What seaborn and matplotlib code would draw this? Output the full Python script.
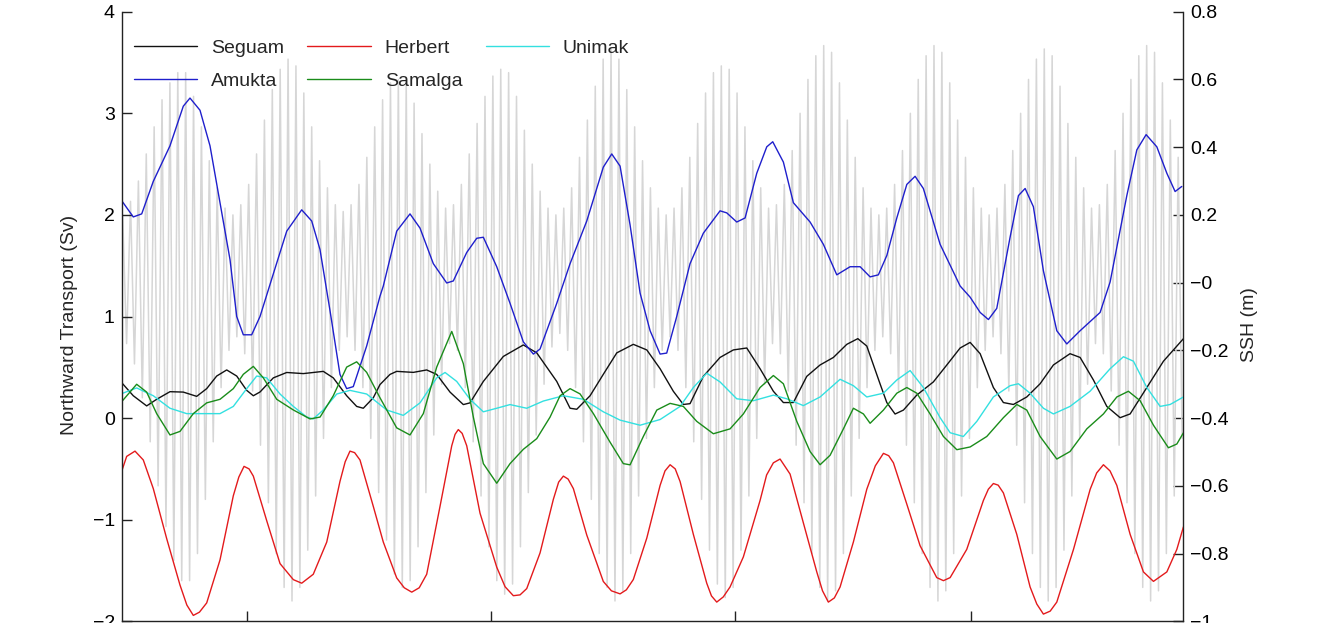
import numpy as np
import pandas as pd
import matplotlib
matplotlib.use("Agg")
import matplotlib.pyplot as plt
import matplotlib.dates as mdates
from matplotlib.ticker import FixedLocator, FuncFormatter
import seaborn as sns

# days since 15 Jun, northward transport (Sv)
seguam_day = [0.0, 1.6, 3.3, 4.57, 6.26, 7.95, 9.65, 10.92, 12.19, 13.46, 14.73, 16.0, 16.84, 17.69,
              19.38, 21.08, 23.18, 25.72, 26.99, 28.69, 29.96, 30.8, 32.07, 32.92, 34.19, 35.04,
              37.15, 38.85, 40.12, 41.81, 43.5, 44.35, 46.04, 48.58, 51.12, 52.82, 55.36, 57.05,
              57.9, 59.59, 61.27, 62.98, 65.08, 66.79, 68.48, 70.16, 71.43, 72.28, 73.97, 76.09,
              77.78, 79.48, 81.17, 82.86, 84.13, 85.4, 87.1, 88.79, 90.48, 92.18, 93.58, 94.72,
              96.4, 97.26, 98.31, 99.37, 101.07, 103.17, 104.88, 106.57, 107.84, 109.11, 110.79,
              112.06, 113.33, 115.03, 116.72, 118.41, 120.52, 121.8, 123.49, 125.19, 126.88,
              128.15, 130.27, 132.38, 134.92]
seguam_sv = [0.36, 0.22, 0.12, 0.185, 0.26, 0.256, 0.214, 0.29, 0.414, 0.474, 0.414, 0.273, 0.22, 0.257,
             0.396, 0.449, 0.438, 0.46, 0.396, 0.22, 0.115, 0.097, 0.2, 0.33, 0.43, 0.46,
             0.45, 0.474, 0.43, 0.256, 0.133, 0.15, 0.361, 0.607, 0.72, 0.642, 0.361, 0.097,
             0.087, 0.22, 0.431, 0.642, 0.726, 0.671, 0.486, 0.264, 0.134, 0.142, 0.411, 0.597,
             0.671, 0.69, 0.486, 0.264, 0.153, 0.153, 0.411, 0.523, 0.597, 0.726, 0.782, 0.709,
             0.338, 0.153, 0.04, 0.079, 0.227, 0.356, 0.523, 0.69, 0.745, 0.634, 0.301,
             0.153, 0.134, 0.208, 0.338, 0.523, 0.634, 0.597, 0.375, 0.115, 0.004,
             0.041, 0.301, 0.56, 0.782]

herbert_day = [0.0, 0.76, 1.82, 2.87, 4.14, 5.84, 7.53, 8.4, 9.22, 10.0, 10.92, 12.61, 14.3, 15.0,
               15.66, 16.3, 16.84, 18.54, 20.23, 21.92, 22.98, 24.45, 26.16, 27.84, 28.5, 29.11,
               29.7, 30.38, 32.07, 33.34, 35.04, 36.0, 36.95, 37.9, 38.85, 40.54, 42.03, 42.45,
               42.86, 43.35, 43.93, 45.62, 47.74, 48.8, 49.85, 50.7, 51.55, 53.24, 54.93, 55.6,
               56.2, 56.8, 57.47, 59.17, 61.27, 62.3, 63.4, 64.2, 65.08, 66.79, 68.48, 69.1,
               69.75, 70.4, 71.02, 72.7, 74.4, 75.0, 75.67, 76.5, 77.36, 79.05, 81.17, 82.0,
               82.86, 83.71, 84.98, 86.67, 88.37, 89.1, 89.84, 90.6, 91.33, 93.02, 94.72, 95.8,
               96.83, 97.5, 98.1, 99.8, 101.48, 103.6, 104.45, 105.3, 107.41, 109.52, 110.15,
               110.79, 111.4, 112.06, 113.76, 115.45, 116.3, 117.14, 118.0, 118.84, 120.96,
               123.08, 123.9, 124.76, 125.6, 126.46, 128.15, 129.84, 131.11, 132.81, 134.08,
               134.92]
herbert_sv = [-0.553, -0.377, -0.325, -0.412, -0.694, -1.186, -1.643, -1.84, -1.942, -1.91, -1.819,
              -1.396, -0.764, -0.58, -0.475, -0.50, -0.571, -1.01, -1.432, -1.59, -1.625, -1.537,
              -1.22, -0.623, -0.43, -0.325, -0.34, -0.412, -0.869, -1.22, -1.573, -1.67, -1.713,
              -1.67, -1.537, -0.869, -0.272, -0.16, -0.113, -0.15, -0.272, -0.936, -1.467, -1.66,
              -1.748, -1.74, -1.678, -1.327, -0.799, -0.63, -0.571, -0.6, -0.694, -1.151, -1.608,
              -1.70, -1.73, -1.69, -1.589, -1.181, -0.662, -0.52, -0.459, -0.5, -0.625, -1.144,
              -1.625, -1.75, -1.811, -1.76, -1.662, -1.366, -0.811, -0.56, -0.44, -0.403, -0.551,
              -1.032, -1.514, -1.70, -1.811, -1.77, -1.662, -1.219, -0.7, -0.47, -0.347, -0.37,
              -0.44, -0.847, -1.255, -1.57, -1.6, -1.57, -1.292, -0.811, -0.7, -0.644, -0.66,
              -0.736, -1.144, -1.662, -1.83, -1.929, -1.9, -1.811, -1.292, -0.7, -0.54, -0.459,
              -0.52, -0.662, -1.144, -1.514, -1.607, -1.514, -1.292, -1.07]

unimak_day = [0.0, 2.03, 4.14, 6.26, 8.38, 10.49, 12.61, 14.3, 16.0, 17.27, 18.54, 20.23, 21.92, 23.62,
              24.45, 25.72, 27.43, 29.11, 31.23, 33.77, 35.88, 38.0, 40.12, 41.18, 42.66, 44.35,
              46.04, 47.74, 49.43, 51.55, 53.66, 56.2, 58.74, 61.27, 63.4, 65.94, 68.48, 71.02,
              72.7, 74.4, 76.09, 78.21, 80.32, 82.86, 84.56, 86.67, 88.79, 91.33, 93.02, 94.72,
              96.83, 98.53, 100.22, 101.9, 104.03, 105.3, 106.98, 108.69, 110.79, 112.91, 113.97,
              115.45, 117.14, 118.41, 120.52, 123.06, 125.61, 127.3, 128.57, 130.27, 131.96,
              133.23, 134.92]
unimak_sv = [0.237, 0.297, 0.22, 0.097, 0.044, 0.044, 0.044, 0.115, 0.29, 0.414, 0.396, 0.237, 0.115,
             0.01, -0.008, 0.08, 0.237, 0.273, 0.237, 0.08, 0.027, 0.15, 0.396, 0.449, 0.361, 0.185,
             0.062, 0.097, 0.133, 0.097, 0.168, 0.22, 0.185, 0.062, -0.02, -0.07, -0.014, 0.115,
             0.301, 0.442, 0.356, 0.19, 0.171, 0.226, 0.19, 0.123, 0.208, 0.382, 0.319, 0.208,
             0.245, 0.375, 0.468, 0.301, 0.004, -0.144, -0.181, -0.032, 0.208, 0.319, 0.338,
             0.245, 0.097, 0.041, 0.115, 0.264, 0.486, 0.604, 0.56, 0.301, 0.115,
             0.134, 0.208]

amukta_day = [0.13, 1.6, 2.67, 4.14, 6.26, 7.95, 8.8, 10.07, 11.34, 12.61, 13.88, 14.73, 15.57, 16.63,
              17.69, 19.38, 21.08, 22.98, 24.25, 25.3, 26.57, 27.84, 28.69, 29.53, 31.23, 32.92,
              33.34, 35.04, 36.73, 38.0, 39.69, 41.39, 42.23, 43.93, 45.2, 46.04, 47.74, 49.43,
              51.12, 52.39, 53.24, 55.36, 57.05, 59.17, 61.27, 62.34, 63.4, 64.67, 65.94, 67.21,
              68.48, 69.32, 70.59, 72.28, 73.97, 76.09, 76.94, 78.21, 79.27, 80.75, 82.02, 82.78,
              84.13, 85.4, 87.52, 89.21, 90.91, 92.6, 93.87, 95.14, 96.19, 97.26, 98.53, 99.8,
              100.85, 101.9, 104.03, 106.57, 107.84, 109.11, 110.16, 111.22, 112.91, 113.97,
              114.82, 115.87, 117.14, 118.84, 120.11, 121.8, 124.34, 125.61, 127.73, 129.0,
              130.18, 131.54, 132.81, 133.86, 134.71]
amukta_sv = [2.14, 1.98, 2.01, 2.33, 2.68, 3.07, 3.15, 3.03, 2.68, 2.12, 1.56, 1.0, 0.82, 0.82,
             1.0, 1.42, 1.84, 2.05, 1.94, 1.66, 1.06, 0.43, 0.29, 0.31, 0.71, 1.2,
             1.3, 1.84, 2.01, 1.87, 1.52, 1.33, 1.35, 1.63, 1.77, 1.78, 1.49, 1.13,
             0.75, 0.63, 0.68, 1.13, 1.52, 1.94, 2.47, 2.6, 2.48, 1.9, 1.23, 0.86,
             0.63, 0.64, 1.0, 1.52, 1.82, 2.04, 2.02, 1.93, 1.97, 2.41, 2.67, 2.72,
             2.52, 2.12, 1.93, 1.71, 1.41, 1.49, 1.49, 1.39, 1.41, 1.6, 1.97, 2.3,
             2.38, 2.26, 1.71, 1.3, 1.19, 1.04, 0.97, 1.08, 1.78, 2.19,
             2.26, 2.08, 1.45, 0.86, 0.73, 0.86, 1.04, 1.34, 2.19, 2.64,
             2.79, 2.67, 2.41, 2.23, 2.28]

samalga_day = [0.0, 2.03, 3.3, 4.57, 6.26, 7.53, 9.22, 10.92, 12.61, 14.3, 15.57, 16.84, 18.11, 19.81,
               21.92, 24.04, 25.31, 26.99, 28.69, 29.96, 31.23, 32.92, 35.04, 36.73, 38.42, 40.12,
               42.03, 43.5, 44.77, 46.04, 47.74, 49.43, 51.12, 52.82, 54.51, 55.78, 57.05, 58.32,
               60.01, 62.12, 63.81, 64.67, 66.35, 68.06, 69.75, 71.43, 73.13, 75.24, 77.36, 79.05,
               81.17, 82.86, 84.13, 85.83, 87.52, 88.79, 90.06, 91.75, 93.02, 94.29, 95.14, 96.83,
               98.53, 99.8, 101.07, 102.75, 104.45, 106.15, 107.84, 109.95, 112.06, 113.76, 115.03,
               116.72, 118.84, 120.52, 122.65, 124.76, 126.46, 127.93, 129.42, 131.11, 133.01,
               134.08, 134.92]
samalga_sv = [0.15, 0.333, 0.256, 0.044, -0.166, -0.131, 0.044, 0.15, 0.185, 0.29, 0.431, 0.509, 0.396,
              0.185, 0.08, -0.008, 0.01, 0.22, 0.502, 0.554, 0.45, 0.2, -0.096, -0.166, 0.044, 0.502,
              0.853, 0.536, 0.01, -0.448, -0.641, -0.448, -0.307, -0.202, 0.01, 0.22, 0.29, 0.238,
              0.044, -0.236, -0.448, -0.46, -0.181, 0.079, 0.145, 0.115, -0.032, -0.154, -0.106, 0.041,
              0.301, 0.419, 0.338, -0.032, -0.329, -0.459, -0.366, -0.106, 0.097, 0.041, -0.051, 0.079,
              0.245, 0.301, 0.245, 0.041, -0.181, -0.311, -0.284, -0.181, 0.004, 0.134, 0.079,
              -0.181, -0.403, -0.329, -0.106, 0.041, 0.208, 0.264, 0.171, -0.07, -0.292,
              -0.255, -0.144]

# daily high / low water of the SSH record (m), one pair per day from 15 Jun
ssh_high = [0.20, 0.24, 0.30, 0.38, 0.46, 0.54, 0.59,
            0.62, 0.62, 0.55, 0.46, 0.36, 0.28, 0.22, 0.20, 0.23, 0.29, 0.38, 0.48, 0.57, 0.63,
            0.66, 0.64, 0.56, 0.46, 0.36, 0.28, 0.23, 0.21, 0.23, 0.29, 0.37, 0.46, 0.54, 0.59,
            0.60, 0.59, 0.53, 0.44, 0.35, 0.27, 0.22, 0.23, 0.29, 0.38, 0.47, 0.55, 0.61,
            0.63, 0.62, 0.55, 0.45, 0.35, 0.27, 0.22, 0.20, 0.22, 0.28, 0.37, 0.48, 0.58, 0.66,
            0.69, 0.66, 0.57, 0.46, 0.36, 0.28, 0.22, 0.20, 0.22, 0.28, 0.37, 0.47, 0.56, 0.62,
            0.64, 0.63, 0.56, 0.46, 0.36, 0.28, 0.22, 0.23, 0.29, 0.39, 0.50, 0.60, 0.67,
            0.70, 0.68, 0.59, 0.48, 0.37, 0.28, 0.22, 0.20, 0.22, 0.29, 0.39, 0.50, 0.60, 0.67,
            0.70, 0.68, 0.59, 0.48, 0.37, 0.28, 0.22, 0.20, 0.22, 0.29, 0.39, 0.50, 0.60, 0.66,
            0.69, 0.67, 0.58, 0.47, 0.37, 0.28, 0.22, 0.23, 0.29, 0.39, 0.50, 0.60, 0.67,
            0.70, 0.68, 0.59, 0.48, 0.37]
ssh_low = [-0.18, -0.24, -0.34, -0.47, -0.60, -0.72, -0.82,
           -0.88, -0.88, -0.80, -0.64, -0.47, -0.31, -0.20, -0.16, -0.21, -0.32, -0.48, -0.65, -0.80, -0.90,
           -0.94, -0.90, -0.79, -0.63, -0.46, -0.31, -0.20, -0.16, -0.20, -0.31, -0.46, -0.62, -0.76, -0.86,
           -0.90, -0.88, -0.78, -0.62, -0.45, -0.30, -0.18, -0.20, -0.31, -0.47, -0.63, -0.78, -0.88,
           -0.92, -0.89, -0.78, -0.62, -0.45, -0.30, -0.19, -0.15, -0.20, -0.31, -0.47, -0.64, -0.80, -0.90,
           -0.94, -0.91, -0.80, -0.63, -0.46, -0.31, -0.20, -0.16, -0.20, -0.31, -0.47, -0.64, -0.79, -0.89,
           -0.93, -0.90, -0.79, -0.63, -0.46, -0.30, -0.18, -0.21, -0.32, -0.48, -0.65, -0.80, -0.90,
           -0.94, -0.91, -0.80, -0.63, -0.46, -0.31, -0.20, -0.16, -0.21, -0.32, -0.48, -0.65, -0.80, -0.90,
           -0.94, -0.91, -0.80, -0.63, -0.46, -0.31, -0.20, -0.16, -0.21, -0.32, -0.48, -0.65, -0.80, -0.90,
           -0.94, -0.90, -0.79, -0.63, -0.46, -0.30, -0.18, -0.21, -0.32, -0.48, -0.65, -0.80, -0.90,
           -0.94, -0.91, -0.80, -0.63, -0.46]

start = pd.Timestamp("2010-06-15")


def to_dates(days):
    return start + pd.to_timedelta(np.asarray(days, dtype=float), unit="D")


stations = [
    ("Seguam", seguam_day, seguam_sv, "#111111"),
    ("Herbert", herbert_day, herbert_sv, "#e31a1c"),
    ("Unimak", unimak_day, unimak_sv, "#33e0e0"),
    ("Amukta", amukta_day, amukta_sv, "#1f1fcc"),
    ("Samalga", samalga_day, samalga_sv, "#1a8c1a"),
]

day_idx = np.arange(len(ssh_high))
ssh = pd.DataFrame({
    "date": to_dates(np.column_stack([day_idx + 0.25, day_idx + 0.75]).ravel()),
    "ssh": np.column_stack([ssh_high, ssh_low]).ravel(),
})

sns.set_style("ticks")
plt.rcParams["font.family"] = ["Liberation Sans", "DejaVu Sans"]
plt.rcParams["font.size"] = 14

fig = plt.figure(figsize=(13.32, 6.23), dpi=100)
ax = fig.add_axes([121.7 / 1332, 1.7 / 623, 1061.6 / 1332, 609.6 / 623])
ax2 = ax.twinx()

# SSH in light grey behind everything
sns.lineplot(data=ssh, x="date", y="ssh", ax=ax2, color="#d6d6d6", lw=1.1,
             estimator=None, sort=False, legend=False)

for name, d, v, c in stations:
    df = pd.DataFrame({"date": to_dates(d), "sv": v})
    sns.lineplot(data=df, x="date", y="sv", ax=ax, color=c, lw=1.0,
                 estimator=None, sort=False, label=name)

ax.set_zorder(ax2.get_zorder() + 1)
ax.patch.set_visible(False)

ax.set_xlim(to_dates([0.13])[0], to_dates([134.9])[0])
ax.set_ylim(-2, 4)
ax2.set_ylim(-1, 0.8)

ax.xaxis.set_major_locator(mdates.MonthLocator())
ax.yaxis.set_major_locator(FixedLocator([-2, -1, 0, 1, 2, 3, 4]))
ax2.yaxis.set_major_locator(FixedLocator(np.round(np.arange(-1, 0.81, 0.2), 1)))
fmt = FuncFormatter(lambda v, _: f"{round(v, 2):g}".replace("-", "\u2212"))
ax.yaxis.set_major_formatter(fmt)
ax2.yaxis.set_major_formatter(fmt)

ax.tick_params(axis="both", direction="in", length=7, width=1, pad=5, colors="#222222",
               labelcolor="black", labelsize=14)
ax2.tick_params(axis="y", direction="in", length=7, width=1, pad=5, colors="#222222",
                labelcolor="black", labelsize=14)
# month labels fall below the cropped bottom edge
ax.tick_params(axis="x", top=False, labelbottom=False)

for s in ["top", "right"]:
    ax.spines[s].set_visible(False)
for s in ["top", "left", "bottom"]:
    ax2.spines[s].set_visible(False)
for sp in [ax.spines["left"], ax.spines["bottom"], ax2.spines["right"]]:
    sp.set_color("#222222")
    sp.set_linewidth(1.0)

ax.set_xlabel("")
ax.set_ylabel("Northward Transport (Sv)", fontsize=14)
ax2.set_ylabel("SSH (m)", fontsize=14)
ax.yaxis.set_label_coords(-0.041, 0.486)
ax2.yaxis.set_label_coords(1.0545, 0.486)

handles, labels = ax.get_legend_handles_labels()
order = ["Seguam", "Amukta", "Herbert", "Samalga", "Unimak"]
hmap = dict(zip(labels, handles))
ax.legend([hmap[n] for n in order], order, ncol=3, loc="upper left",
          bbox_to_anchor=(0.0042, 0.968), borderaxespad=0, frameon=False,
          handlelength=3.25, handletextpad=0.72, columnspacing=1.2, labelspacing=0.8,
          fontsize=14)

fig.savefig("out.png", dpi=100)
